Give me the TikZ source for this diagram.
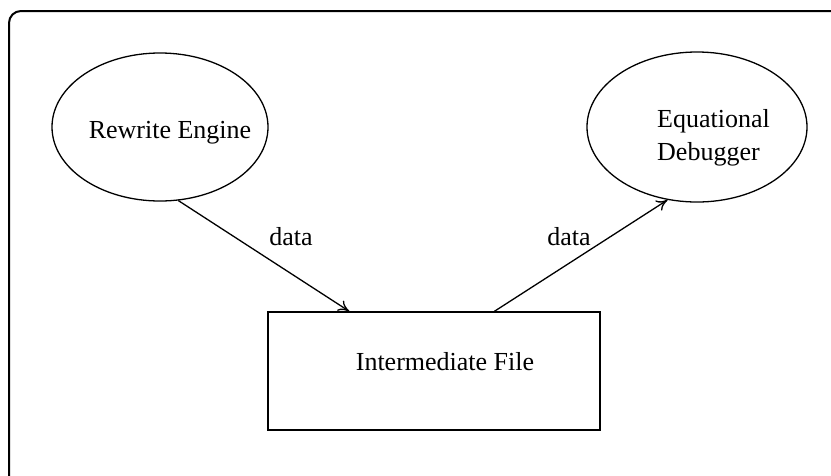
\documentclass[tikz,border=0pt]{standalone}
\usepackage{fontspec}
\setmainfont{Liberation Serif}
\usetikzlibrary{shapes.geometric,arrows.meta}
\begin{document}
\begin{tikzpicture}[x=1pt,y=-1pt,
  every node/.style={font=\fontsize{26}{33}\selectfont},
  proc/.style={ellipse,draw,line width=1.3pt,inner sep=0pt},
  store/.style={rectangle,draw,line width=1.3pt,inner sep=0pt,
    minimum width=332pt,minimum height=118pt},
  flow/.style={line width=1.3pt,-{To[length=11pt,width=12pt]}},
  caption/.style={inner sep=0pt}]
\useasboundingbox (0,0) rectangle (831,475);
% outer frame, running past the right and bottom edges
\begin{scope}
  \clip (0,0) rectangle (831,475);
  \draw[line width=2pt,rounded corners=12pt] (9,11) rectangle (870,510);
\end{scope}
% processes and the shared file
\node[proc,minimum width=216pt,minimum height=148pt] (engine) at (160,127) {};
\node[caption,anchor=base] (engine-text) at (170,138) {Rewrite Engine};
\node[proc,minimum width=220pt,minimum height=150pt] (debugger) at (697,127) {};
\node[caption,anchor=north west,align=left] (debugger-text) at (657,109)
  {Equational\\Debugger};
\node[store] (file) at (434,371) {};
\node[caption,anchor=base] (file-text) at (445,370) {Intermediate File};
% data flow
\draw[flow] (engine.-76) -- ([xshift=82pt]file.north west);
\draw[flow] ([xshift=227pt]file.north west) -- (debugger.-112);
\node[caption,anchor=base] (data-in) at (291,245) {data};
\node[caption,anchor=base] (data-out) at (569,245) {data};
\end{tikzpicture}
\end{document}
